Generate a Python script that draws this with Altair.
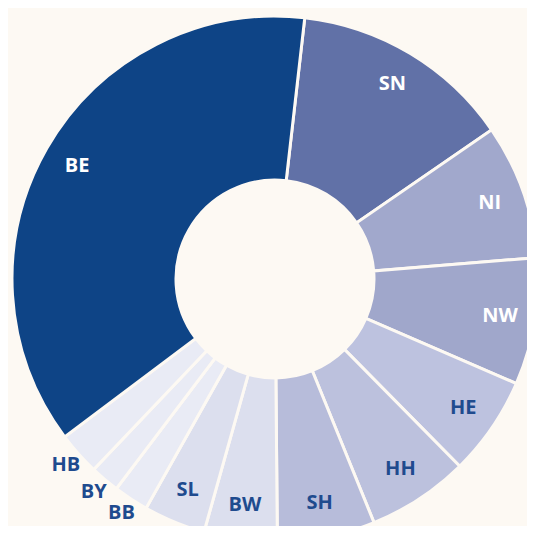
import math
import altair as alt
import pandas as pd

# Data (clockwise from just right of 12 o'clock)
states = ["SN", "NI", "NW", "HE", "HH", "SH", "BW", "SL", "BB", "BY", "HB", "BE"]
shares = [13.6, 8.3, 7.8, 6.1, 6.25, 6.0, 4.5, 3.8, 2.15, 1.8, 2.65, 37.05]
fills = ["#6171a7", "#a1a8cc", "#a0a7cb", "#bdc2df", "#bcc1dd", "#b7bcda",
         "#dcdfee", "#dcdfee", "#e9ebf5", "#e9ebf5", "#e9ebf5", "#0e4486"]
text_colors = ["#ffffff", "#ffffff", "#ffffff", "#1f4b8e", "#1f4b8e", "#1f4b8e",
               "#1f4b8e", "#1f4b8e", "#1f4b8e", "#1f4b8e", "#1f4b8e", "#ffffff"]
outside = ["BB", "BY", "HB"]

df = pd.DataFrame({
    "state": states,
    "share": shares,
    "fill": fills,
    "tcol": text_colors,
    "ord": list(range(len(states))),
})
df["lab_in"] = [s if s not in outside else "" for s in states]
df["lab_out"] = [s if s in outside else "" for s in states]

start = math.radians(6.5)
theta = alt.Theta("share:Q", stack=True,
                  scale=alt.Scale(range=[start, start + 2 * math.pi]))
order = alt.Order("ord:Q")

base = alt.Chart(df).encode(theta=theta, order=order,
                            x=alt.value(267), y=alt.value(271))

arcs = base.mark_arc(innerRadius=99, outerRadius=263,
                     stroke="#fdf9f3", strokeWidth=3).encode(
    color=alt.Color("fill:N", scale=None))

text_style = dict(font="Open Sans", fontWeight="bold", fontSize=20,
                  align="center", baseline="middle")

t_in = base.mark_text(radius=228, **text_style).encode(
    text="lab_in:N", color=alt.Color("tcol:N", scale=None))
t_out = base.mark_text(radius=280, **text_style).encode(
    text="lab_out:N", color=alt.Color("tcol:N", scale=None))

chart = alt.layer(arcs, t_in, t_out).properties(
    width=519, height=518, background="#fdf9f3", padding=0, autosize="none"
).configure_view(stroke=None)

chart.save("out.html", embed_options={"renderer": "svg", "actions": False})
